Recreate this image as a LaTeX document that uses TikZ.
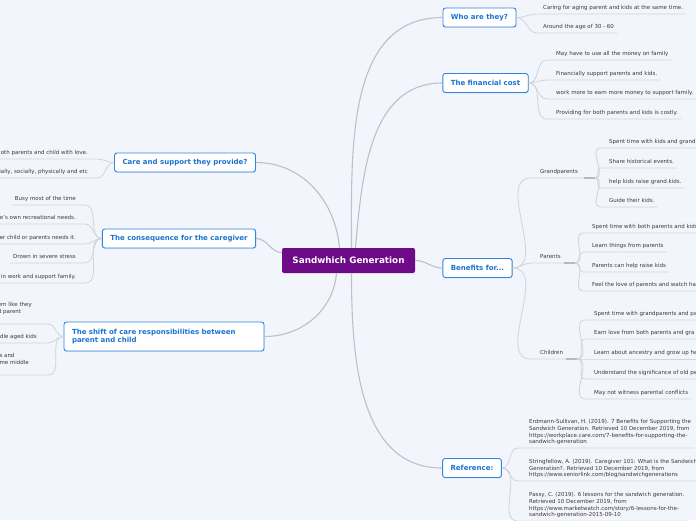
\documentclass[tikz,border=0pt]{standalone}
\usepackage{fontspec}
\setmainfont{DejaVu Sans}
\usetikzlibrary{shadows}

\definecolor{bgmap}{HTML}{F3F5FC}
\definecolor{rootpurple}{HTML}{6C0A87}
\definecolor{topicblue}{HTML}{2E86DE}
\definecolor{topictext}{HTML}{1A73D0}
\definecolor{linkgray}{HTML}{BEBFC8}
\definecolor{subgray}{HTML}{D2D3DA}
\definecolor{itemtext}{HTML}{3A3A3A}

\tikzset{
  root/.style={fill=rootpurple, rounded corners=2pt, text=white,
    font=\bfseries\fontsize{8.8}{10}\selectfont, minimum width=133pt, minimum height=25pt},
  topic/.style={draw=topicblue, line width=0.9pt, fill=white, rounded corners=2.5pt,
    text=topictext, font=\bfseries\fontsize{7}{8.6}\selectfont, inner xsep=8pt,
    minimum height=19pt, drop shadow={shadow xshift=0.5pt, shadow yshift=-0.8pt, opacity=0.2}},
  item/.style={text=itemtext, font=\fontsize{5.5}{6.7}\selectfont, align=left,
    inner xsep=3pt, inner ysep=2pt, execute at end node=\strut},
  branch/.style={draw=linkgray, line width=1.1pt},
  link/.style={draw=subgray, line width=0.8pt},
  knob/.style={draw=gray!55, line width=1.3pt}
}

\begin{document}
\begin{tikzpicture}[x=1pt, y=-1pt]

    \fill[bgmap] (0,0) rectangle (696,520);
    \useasboundingbox (0,0) rectangle (696,520);
    \clip (0,0) rectangle (696,520);

    % main topics
    \node[root] (root) at (348.5,260.5) {Sandwhich Generation};
    \node[topic] (who) at (479.5,17.5) {Who are they?};
    \node[topic] (fin) at (485.5,83) {The financial cost};
    \node[topic] (ben) at (477.5,268) {Benefits for...};
    \node[topic] (ref) at (472,468) {Reference:};
    \node[topic] (care) at (185,162.5) {Care and support they provide?};
    \node[topic] (cons) at (179,238.5) {The consequence for the caregiver};
    \node[topic, text width=184pt, align=left, minimum height=29pt] (shift) at (164,336.5)
        {The shift of care responsibilities between\\parent and child};

    \draw[branch] ([xshift=3pt]root.north) to[out=90,in=180] (who.west);
    \draw[branch] ([xshift=7pt]root.north) to[out=85,in=180] (fin.west);
    \draw[branch] (root.east) to[out=0,in=180] (ben.west);
    \draw[branch] ([xshift=3pt]root.south) to[out=-90,in=180] (ref.west);
    \draw[branch] ([xshift=-9pt]root.north) to[out=95,in=0] (care.east);
    \draw[branch] ([yshift=8pt]root.west) to[out=180,in=0] (cons.east);
    \draw[branch] ([xshift=-12pt]root.south) to[out=-95,in=0] (shift.east);

    % who are they
    \foreach \y/\txt [count=\i] in {14/Caring for aging parent and kids at the same time., 33/Around the age of 30 - 60} {
        \node[item, anchor=south west] (who\i) at (540,\y) {\txt};
        \draw[link] (who.east) to[out=0,in=180] ([xshift=-3pt]who\i.south west) -- (who\i.south east);
    }

    % financial cost
    \foreach \y/\txt [count=\i] in {60/May have to use all the money on family, 80/Financially support parents and kids.,
        99/work more to earn more money to support family., 119/Providing for both parents and kids is costly.} {
        \node[item, anchor=south west] (fin\i) at (553,\y) {\txt};
        \draw[link] (fin.east) to[out=0,in=180] ([xshift=-6pt]fin\i.south west) -- (fin\i.south east);
    }

    % benefits
    \node[item, anchor=south west, text width=52pt] (grand) at (537,178) {Grandparents};
    \node[item, anchor=south west, text width=32pt] (par) at (537,263) {Parents};
    \node[item, anchor=south west, text width=34pt] (chi) at (537,359) {Children};
    \foreach \g in {grand, par, chi} {
        \draw[link] (ben.east) to[out=0,in=180] ([xshift=-6pt]\g.south west) -- (\g.south east);
        \draw[knob] ([xshift=-11pt]\g.south east) -- (\g.south east);
    }

    \foreach \y/\txt [count=\i] in {148/Spent time with kids and grand, 168/Share historical events.,
        188/help kids raise grand.kids., 207/Guide their kids.} {
        \node[item, anchor=south west] (grand\i) at (606,\y) {\txt};
        \draw[link] (grand.south east) to[out=0,in=180] ([xshift=-6pt]grand\i.south west) -- (grand\i.south east);
    }

    \foreach \y/\txt [count=\i] in {233/Spent time with both parents and kids, 252/Learn things from parents,
        272/Parents can help raise kids, 291/Feel the love of parents and watch ha} {
        \node[item, anchor=south west] (par\i) at (589,\y) {\txt};
        \draw[link] (par.south east) to[out=0,in=180] ([xshift=-6pt]par\i.south west) -- (par\i.south east);
    }

    \foreach \y/\txt [count=\i] in {320/Spent time with grandparents and pa, 339/Earn love from both parents and gra,
        359/Learn about ancestry and grow up he, 379/Understand the significance of old pe,
        399/May not witness parental conflicts} {
        \node[item, anchor=south west] (chi\i) at (591,\y) {\txt};
        \draw[link] (chi.south east) to[out=0,in=180] ([xshift=-6pt]chi\i.south west) -- (chi\i.south east);
    }

    % reference
    \foreach \y/\txt [count=\i] in {
        448/{Erdmann-Sullivan, H. (2019). 7 Benefits for Supporting the\\Sandwich Generation. Retrieved 10 December 2019, from\\https://workplace.care.com/7-benefits-for-supporting-the-\\sandwich-generation},
        481/{Stringfellow, A. (2019). Caregiver 101: What is the Sandwich\\Generation?. Retrieved 10 December 2019, from\\https://www.seniorlink.com/blog/sandwichgenerations},
        521/{Passy, C. (2019). 6 lessons for the sandwich generation.\\Retrieved 10 December 2019, from\\https://www.marketwatch.com/story/6-lessons-for-the-\\sandwich-generation-2015-09-10}} {
        \node[item, anchor=south west] (ref\i) at (526,\y) {\txt};
        \draw[link] (ref.east) to[out=0,in=180] ([xshift=-8pt]ref\i.south west) -- (ref\i.south east);
    }

    % care and support
    \foreach \y/\txt [count=\i] in {159/oth parents and child with love., 178/{tially, socially, physically and etc}} {
        \node[item, anchor=south east] (care\i) at (91,\y) {\txt};
        \draw[link] (care.west) to[out=180,in=0] ([xshift=6pt]care\i.south east) -- (care\i.south west);
    }

    % consequence
    \foreach \y/\txt [count=\i] in {205/Busy most of the time, 224/e's own recreational needs.,
        244/er child or parents needs it., 263/Drown in severe stress, 283/in work and support family.} {
        \node[item, anchor=south east] (cons\i) at (79,\y) {\txt};
        \draw[link] (cons.west) to[out=180,in=0] ([xshift=6pt]cons\i.south east) -- (cons\i.south west);
    }

    % shift of care
    \foreach \x/\y/\txt [count=\i] in {35/324/{em like they\\d parent\\}, 40/343/dle aged kids, 32/375/{s and\\me middle\\}} {
        \pgfmathsetmacro{\gap}{48-\x}
        \node[item, anchor=south east] (shift\i) at (\x,\y) {\txt};
        \draw[link] (shift.west) to[out=180,in=0] ([xshift=\gap pt]shift\i.south east) -- (shift\i.south west);
    }

\end{tikzpicture}
\end{document}
